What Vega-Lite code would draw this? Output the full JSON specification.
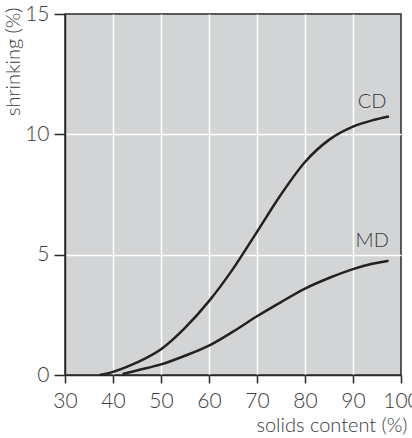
{
  "$schema": "https://vega.github.io/schema/vega-lite/v6.json",
  "autosize": {"type": "none"},
  "width": 336,
  "height": 361,
  "padding": {"left": 65, "top": 14, "right": 11, "bottom": 63},
  "background": "white",
  "config": {
    "font": "Lato",
    "view": {"fill": "#d3d4d6", "stroke": "#2a2a2a", "strokeWidth": 1.5},
    "axis": {
      "labelFont": "Lato",
      "labelFontSize": 21,
      "labelFontWeight": 300,
      "labelColor": "#3a3a3a",
      "labelFlush": false,
      "titleFont": "Lato",
      "titleFontSize": 20,
      "titleFontWeight": 300,
      "titleColor": "#3a3a3a",
      "domainColor": "#2a2a2a",
      "domainWidth": 1.5,
      "tickColor": "#2a2a2a",
      "tickWidth": 1.5,
      "gridColor": "white",
      "gridWidth": 1.5,
      "gridOpacity": 1
    }
  },
  "layer": [
    {
      "data": {
        "values": [
          {"series": "CD", "x": 37.2, "y": 0},
          {"series": "CD", "x": 40, "y": 0.13},
          {"series": "CD", "x": 45, "y": 0.52},
          {"series": "CD", "x": 50, "y": 1.07},
          {"series": "CD", "x": 55, "y": 1.96},
          {"series": "CD", "x": 60, "y": 3.07},
          {"series": "CD", "x": 65, "y": 4.41},
          {"series": "CD", "x": 70, "y": 5.95},
          {"series": "CD", "x": 75, "y": 7.5},
          {"series": "CD", "x": 80, "y": 8.85},
          {"series": "CD", "x": 85, "y": 9.77},
          {"series": "CD", "x": 90, "y": 10.32},
          {"series": "CD", "x": 94, "y": 10.58},
          {"series": "CD", "x": 97.5, "y": 10.74},
          {"series": "MD", "x": 42, "y": 0.04},
          {"series": "MD", "x": 45, "y": 0.19},
          {"series": "MD", "x": 50, "y": 0.44},
          {"series": "MD", "x": 55, "y": 0.8},
          {"series": "MD", "x": 60, "y": 1.22},
          {"series": "MD", "x": 65, "y": 1.8},
          {"series": "MD", "x": 70, "y": 2.44},
          {"series": "MD", "x": 75, "y": 3.03},
          {"series": "MD", "x": 80, "y": 3.59},
          {"series": "MD", "x": 85, "y": 4.03},
          {"series": "MD", "x": 90, "y": 4.4},
          {"series": "MD", "x": 94, "y": 4.62},
          {"series": "MD", "x": 97.4, "y": 4.75}
        ]
      },
      "mark": {"type": "line", "color": "#222222", "strokeWidth": 2.5, "interpolate": "monotone"},
      "encoding": {
        "x": {
          "field": "x", "type": "quantitative",
          "scale": {"domain": [30, 100], "nice": false, "zero": false},
          "axis": {
            "values": [30, 40, 50, 60, 70, 80, 90, 100],
            "grid": true,
            "gridOpacity": {"condition": {"test": "datum.value === 30 || datum.value === 100", "value": 0}, "value": 1},
            "tickSize": 8,
            "labelPadding": 7,
            "labelOverlap": false,
            "title": "solids content (%)",
            "titleAnchor": "end",
            "titleAlign": "right",
            "titleBaseline": "alphabetic",
            "titleX": 342,
            "titleY": 56
          }
        },
        "y": {
          "field": "y", "type": "quantitative",
          "scale": {"domain": [0, 15], "nice": false},
          "axis": {
            "values": [0, 5, 10, 15],
            "grid": true,
            "gridOpacity": {"condition": {"test": "datum.value === 0 || datum.value === 15", "value": 0}, "value": 1},
            "tickSize": 11,
            "labelPadding": 5,
            "labelOverlap": false,
            "title": "shrinking (%)",
            "titleAngle": -90,
            "titleAlign": "right",
            "titleAnchor": "end",
            "titleBaseline": "alphabetic",
            "titleX": -46,
            "titleY": -7
          }
        },
        "detail": {"field": "series", "type": "nominal"}
      }
    },
    {
      "data": {
        "values": [
          {"label": "CD", "x": 94.0, "y": 11.36},
          {"label": "MD", "x": 94.0, "y": 5.55}
        ]
      },
      "mark": {"type": "text", "font": "Lato", "fontSize": 20, "fontWeight": 300, "color": "#3a3a3a", "align": "center", "baseline": "middle"},
      "encoding": {
        "x": {"field": "x", "type": "quantitative"},
        "y": {"field": "y", "type": "quantitative"},
        "text": {"field": "label", "type": "nominal"}
      }
    }
  ]
}
